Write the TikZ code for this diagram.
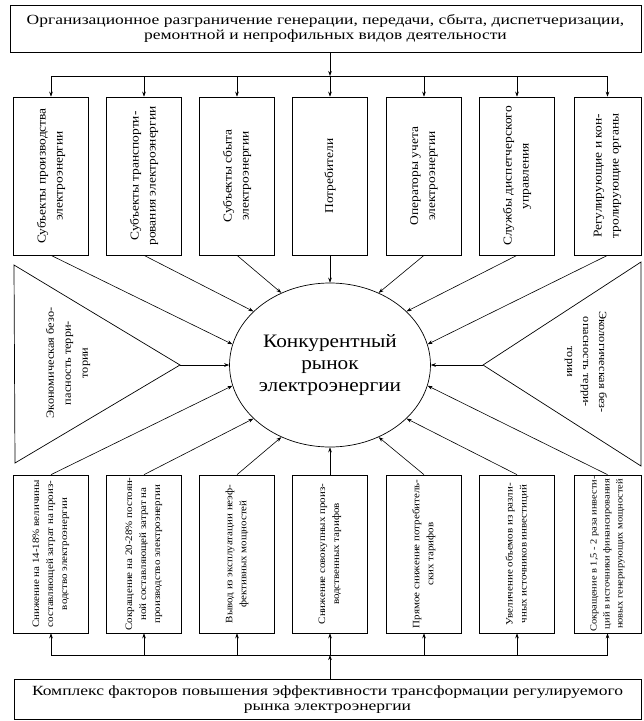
\documentclass[tikz,border=0pt]{standalone}
\usepackage{fontspec}
\setmainfont[FakeStretch=1.12]{Liberation Serif}
\newfontfamily\widefont[FakeStretch=1.25]{Liberation Serif}
\usetikzlibrary{shapes.geometric,arrows.meta}
\begin{document}
\begin{tikzpicture}[x=1pt,y=-1pt,
  arr/.style={-{Stealth[length=5pt,width=3.6pt]}, line width=0.6pt},
  ln/.style={line width=0.6pt},
  boxx/.style={draw, line width=0.7pt, minimum width=75pt, minimum height=158pt, inner sep=0pt},
  boxs/.style={draw, line width=0.7pt, minimum width=67pt, minimum height=158pt, inner sep=0pt},
  vtxt/.style={rotate=90, align=center, inner sep=0pt, font=\fontsize{12}{17}\selectfont},
  btxt/.style={rotate=90, align=center, inner sep=0pt, font=\fontsize{9.8}{14}\selectfont},
  wtxt/.style={draw, line width=0.7pt, align=center, inner sep=0pt, font=\widefont\fontsize{14}{15}\selectfont}
]
\useasboundingbox (0,0) rectangle (644,721);

% top and bottom boxes
\node[wtxt, minimum width=631pt, minimum height=47pt] (top) at (325.5,28.5)
  {Организационное разграничение генерации, передачи, сбыта, диспетчеризации,\\ремонтной и непрофильных видов деятельности};
\node[wtxt, minimum width=627pt, minimum height=40pt] (bot) at (327.5,699.5)
  {Комплекс факторов повышения эффективности трансформации регулируемого\\рынка электроэнергии};

% upper row
\node[boxx] (t1) at (51,176) {};
\node[boxx] (t2) at (144,176) {};
\node[boxx] (t3) at (237,176) {};
\node[boxx] (t4) at (330,176) {};
\node[boxx] (t5) at (424,176) {};
\node[boxx] (t6) at (517,176) {};
\node[boxs] (t7) at (607.5,176) {};
\node[vtxt] (t1x) at (t1) {Субъекты производства\\электроэнергии};
\node[vtxt] (t2x) at (t2) {Субъекты транспорти-\\рования электроэнергии};
\node[vtxt] (t3x) at (t3) {Субъекты сбыта\\электроэнергии};
\node[vtxt] (t4x) at (t4) {Потребители};
\node[vtxt] (t5x) at (t5) {Операторы учета\\электроэнергии};
\node[vtxt] (t6x) at (t6) {Службы диспетчерского\\управления};
\node[vtxt] (t7x) at (t7) {Регулирующие и кон-\\тролирующие органы};

% lower row
\node[boxx] (b1) at (51,554) {};
\node[boxx] (b2) at (144,554) {};
\node[boxx] (b3) at (237,554) {};
\node[boxx] (b4) at (330,554) {};
\node[boxx] (b5) at (424,554) {};
\node[boxx] (b6) at (517,554) {};
\node[boxs] (b7) at (607.5,554) {};
\node[btxt] (b1x) at (b1) {Снижение на 14-18\% величины\\составляющей затрат на произ-\\водство электроэнергии};
\node[btxt] (b2x) at (b2) {Сокращение на 20-28\% постоян-\\ной составляющей затрат на\\производство электроэнергии};
\node[btxt] (b3x) at (b3) {Вывод из эксплуатации неэф-\\фективных мощностей};
\node[btxt] (b4x) at (b4) {Снижение совокупных произ-\\водственных тарифов};
\node[btxt] (b5x) at (b5) {Прямое снижение потребитель-\\ских тарифов};
\node[btxt] (b6x) at (b6) {Увеличение объемов из разли-\\чных источников инвестиций};
\node[btxt, font=\fontsize{9.3}{13}\selectfont] (b7x) at (b7) {Сокращение в 1,5 - 2 раза инвести-\\ций в источники финансирования\\новых генерирующих мощностей};

% central market
\node[ellipse, draw, line width=0.7pt, minimum width=186pt, minimum height=164pt, inner sep=0pt,
      align=center, font=\fontsize{19}{22}\selectfont] (m) at (330,365)
  {Конкурентный\\рынок\\электроэнергии};

% buses
\coordinate (tb) at (330,76);
\coordinate (bb) at (330,655);
\draw[arr] (t4 |- top.south) -- (t4 |- tb);
\draw[ln] (t1 |- tb) -- (t7 |- tb);
\foreach \i in {1,...,7} {\draw[arr] (t\i |- tb) -- (t\i.north);}
\draw[arr] (b4 |- bot.north) -- (b4 |- bb);
\draw[ln] (b1 |- bb) -- (b7 |- bb);
\foreach \i in {1,...,7} {\draw[arr] (b\i |- bb) -- (b\i.south);}

% spokes
\draw[arr] (t1.south) -- (m.168);
\draw[arr] (t2.south) -- (m.145);
\draw[arr] (t3.south) -- (m.124);
\draw[arr] (t4.south) -- (m.90);
\draw[arr] (t5.south) -- (m.56);
\draw[arr] (t6.south) -- (m.35);
\draw[arr] (t7.south) -- (m.12);
\draw[arr] (b1.north) -- (m.192);
\draw[arr] (b2.north) -- (m.215);
\draw[arr] (b3.north) -- (m.236);
\draw[arr] (b4.north) -- (m.270);
\draw[arr] (b5.north) -- (m.304);
\draw[arr] (b6.north) -- (m.325);
\draw[arr] (b7.north) -- (m.348);

% triangles
\coordinate (la) at (180,365);
\coordinate (ra) at (483,365);
\draw[line width=0.7pt] (14,265) -- (la) -- (15,463) -- cycle;
\draw[line width=0.7pt] (641,262) -- (ra) -- (641,466) -- cycle;
\draw[arr] (la) -- (m.180);
\draw[arr] (ra) -- (m.0);
\node[rotate=90, align=center, inner sep=0pt, font=\fontsize{11}{17}\selectfont] (lt) at (68,363)
  {Экономическая безо-\\пасность терри-\\тории};
\node[rotate=-90, align=center, inner sep=0pt, font=\fontsize{11}{16}\selectfont] (rt) at (586,362)
  {Экологическая без-\\опасность терри-\\тории};
\end{tikzpicture}
\end{document}
